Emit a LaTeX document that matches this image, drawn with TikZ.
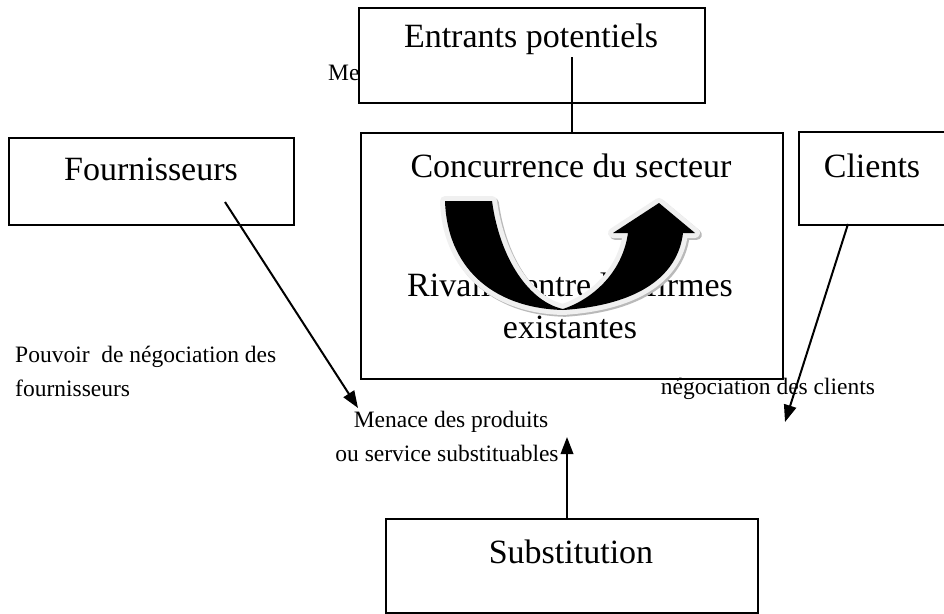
\documentclass[tikz,border=0pt]{standalone}
\usepackage{fontspec}
\setmainfont{Liberation Serif}
\usetikzlibrary{arrows.meta}
\begin{document}
\begin{tikzpicture}[x=1pt,y=-1pt,
  box/.style={draw=black, line width=1.5pt, fill=white, inner sep=0pt, anchor=north west},
  big/.style={font=\fontsize{34}{40}\selectfont, inner sep=0pt},
  small/.style={font=\fontsize{23.5}{31}\selectfont, inner sep=0pt},
  conn/.style={line width=2pt, -{Triangle[length=17pt,width=12.5pt]}},
  plain/.style={line width=2pt}]
\useasboundingbox (0,0) rectangle (944,613);

% hidden label behind the Entrants box
\node[small, anchor=west] (me) at (328,73) {Me};

% boxes
\node[box, minimum width=346pt, minimum height=95pt] (ent) at (358,7) {};
\node[box, minimum width=285pt, minimum height=87pt] (four) at (8,137) {};
\node[box, minimum width=422pt, minimum height=246pt, line width=1.8pt] (conc) at (360,132) {};
\node[box, minimum width=160pt, minimum height=93pt] (cli) at (798,131) {};
\node[box, minimum width=372pt, minimum height=94pt] (subst) at (385,518) {};

% box labels
\node[big] (tent) at (531,39) {Entrants potentiels};
\node[big] (tfour) at (151,169) {Fournisseurs};
\node[big] (tcli) at (872,166) {Clients};
\node[big] (tconc) at (571,166) {Concurrence du secteur};
\node[big] (triv) at (570,285) {Rivalité entre les firmes};
\node[big] (texi) at (570,327) {existantes};
\node[big] (tsub) at (571,552) {Substitution};

% free labels
\node[small, anchor=west] (pouv1) at (15,357) {Pouvoir\ \ de négociation des};
\node[small, anchor=west] (pouv2) at (15,388) {fournisseurs};
\node[small] (negcli) at (768,389) {négociation des clients};
\node[small] (men1) at (451,422) {Menace des produits};
\node[small] (men2) at (447,453) {ou service substituables};

% connectors
\coordinate (e1) at (572,57);
\draw[plain] (e1) -- (e1 |- conc.north);
\coordinate (f1) at (225,202);
\coordinate (f2) at (358,408);
\draw[conn] (f1) -- (f2);
\coordinate (c1) at (848,224);
\coordinate (c2) at (785,422);
\draw[conn] (c1) -- (c2);
\coordinate (s2) at (567,437);
\draw[conn] (s2 |- subst.north) -- (s2);

% curved rivalry arrow
\def\uarrow{(445,201) -- (492,201) .. controls (500,260) and (530,302) .. (563,309)
  .. controls (590,300) and (622,275) .. (628,233) -- (613,233) -- (659,203) -- (695,233) -- (683,233)
  .. controls (678,275) and (640,305) .. (563,310)
  .. controls (490,308) and (447,265) .. (445,201) -- cycle}
\draw[gray!55, line width=10pt, line join=round, shift={(1.8,1.8)}] \uarrow;
\draw[gray!12, line width=10pt, line join=round] \uarrow;
\fill[black] \uarrow;
\end{tikzpicture}
\end{document}
